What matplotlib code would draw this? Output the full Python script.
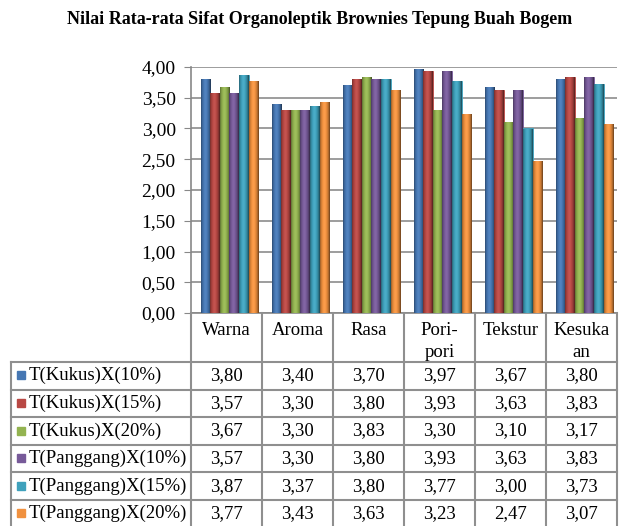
import numpy as np
from matplotlib import pyplot as plt
from matplotlib.colors import to_rgb

plt.rcParams['font.family'] = ['Liberation Serif', 'DejaVu Serif']

title = "Nilai Rata-rata Sifat Organoleptik Brownies Tepung Buah Bogem"
categories = ["Warna", "Aroma", "Rasa", "Pori-\npori", "Tekstur", "Kesuka\nan"]
series_names = ["T(Kukus)X(10%)", "T(Kukus)X(15%)", "T(Kukus)X(20%)",
                "T(Panggang)X(10%)", "T(Panggang)X(15%)", "T(Panggang)X(20%)"]
kukus10 = [3.80, 3.40, 3.70, 3.97, 3.67, 3.80]
kukus15 = [3.57, 3.30, 3.80, 3.93, 3.63, 3.83]
kukus20 = [3.67, 3.30, 3.83, 3.30, 3.10, 3.17]
panggang10 = [3.57, 3.30, 3.80, 3.93, 3.63, 3.83]
panggang15 = [3.87, 3.37, 3.80, 3.77, 3.00, 3.73]
panggang20 = [3.77, 3.43, 3.63, 3.23, 2.47, 3.07]
series = [kukus10, kukus15, kukus20, panggang10, panggang15, panggang20]
colors = ["#4677B3", "#B84844", "#93B350", "#775A99", "#3FA1BC", "#F0913F"]
y_ticks = [0, 0.5, 1, 1.5, 2, 2.5, 3, 3.5, 4]

W, H = 619, 526
fig = plt.figure(figsize=(W / 100, H / 100), dpi=100)

# plot area in pixel coords
x0, x1 = 191, 617
ytop, ybot = 67, 313
ax = fig.add_axes([x0 / W, 1 - ybot / H, (x1 - x0) / W, (ybot - ytop) / H])

bw = 0.135
xs = np.arange(len(categories))
shade = np.linspace(0, 1, 40)
# cylinder-like shading: dark edges, light band left of centre
prof = 0.6 + 0.55 * np.sin(np.pi * shade) ** 0.7 - 0.2 * shade
for i, (vals, col) in enumerate(zip(series, colors)):
    bars = ax.bar(xs + (i - 2.5) * bw + 0.04, vals, width=bw, color=col,
                  edgecolor=col, linewidth=0.6, zorder=3)
    base = np.array(to_rgb(col))
    img = base[None, :] * np.minimum(prof, 1.0)[:, None]
    img = img + np.clip(prof[:, None] - 1.0, 0, 1) * 0.9
    img = np.clip(img, 0, 1)[None, :, :]
    for b in bars:
        bx = b.get_x()
        im = ax.imshow(img, extent=(bx, bx + bw, 0, b.get_height()),
                       aspect='auto', zorder=4, interpolation='bilinear')
        im.set_clip_path(b)

ax.set_xlim(-0.5, len(categories) - 0.5)
ax.set_ylim(0, 4)
ax.set_yticks(y_ticks)
ax.set_yticklabels([f"{v:.2f}".replace('.', ',') for v in y_ticks])
ax.set_xticks([])
ax.tick_params(axis='y', labelsize=14, length=5, color='#888888', pad=6)
ax.yaxis.grid(True, color='#8c8c8c', linewidth=1.2)
ax.set_axisbelow(True)
for s in ['top', 'right']:
    ax.spines[s].set_visible(False)
for s in ['left', 'bottom']:
    ax.spines[s].set_color('#888888')
    ax.spines[s].set_linewidth(1.2)

fig.text(0.517, 1 - 20 / H, title, ha='center', va='center',
         fontsize=13, fontweight='bold')

# data table below the plot
tab = fig.add_axes([0, 0, 1, 1])
tab.set_xlim(0, W)
tab.set_ylim(H, 0)
tab.axis('off')
lc = '#8f8f8f'
col_edges = [x0 + k * (x1 - x0) / len(categories) for k in range(len(categories) + 1)]
hdr_bot = 362
row_h = 27.6
left = 11
n_rows = len(series)
bottom = hdr_bot + row_h * n_rows
for xe in col_edges:
    tab.plot([xe, xe], [ybot, bottom], color=lc, lw=1.5)
tab.plot([left, left], [hdr_bot, bottom], color=lc, lw=1.5)
for r in range(n_rows + 1):
    yy = hdr_bot + r * row_h
    tab.plot([left, x1], [yy, yy], color=lc, lw=1.5)

for k, cat in enumerate(categories):
    cx = (col_edges[k] + col_edges[k + 1]) / 2
    tab.text(cx, 322, cat, ha='center', va='top', fontsize=13.5,
             linespacing=1.4)

for r, (name, vals, col) in enumerate(zip(series_names, series, colors)):
    cy = hdr_bot + (r + 0.5) * row_h
    tab.add_patch(plt.Rectangle((17, cy - 4.5), 8, 8, color=col))
    tab.text(29, cy, name, ha='left', va='center', fontsize=13.5)
    for k, v in enumerate(vals):
        cx = (col_edges[k] + col_edges[k + 1]) / 2
        tab.text(cx, cy, f"{v:.2f}".replace('.', ','), ha='center',
                 va='center', fontsize=13.5)

fig.savefig("out.png", dpi=100)
